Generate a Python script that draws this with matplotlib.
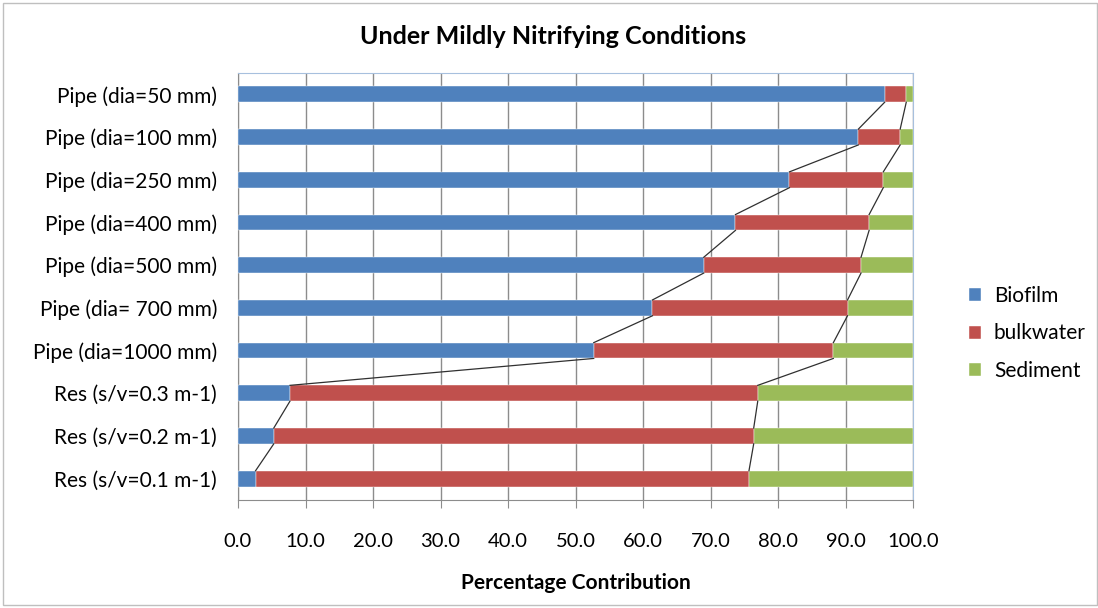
import numpy as np
import matplotlib.pyplot as plt
from matplotlib.patches import Rectangle

# ========================
# DATA
# ========================
categories = ["Pipe (dia=50 mm)", "Pipe (dia=100 mm)", "Pipe (dia=250 mm)",
              "Pipe (dia=400 mm)", "Pipe (dia=500 mm)", "Pipe (dia= 700 mm)",
              "Pipe (dia=1000 mm)", "Res (s/v=0.3 m-1)", "Res (s/v=0.2 m-1)",
              "Res (s/v=0.1 m-1)"]
biofilm = [95.8, 91.9, 81.7, 73.7, 69.0, 61.4, 52.7, 7.7, 5.3, 2.6]
bulkwater = [3.2, 6.2, 13.9, 19.8, 23.3, 28.9, 35.5, 69.3, 71.1, 73.1]
sediment = [100 - b - w for b, w in zip(biofilm, bulkwater)]

colors = {"Biofilm": "#4F81BD", "bulkwater": "#C0504D", "Sediment": "#9BBB59"}

plt.rcParams['font.family'] = ['Lato', 'DejaVu Sans']

# ========================
# PLOT
# ========================
fig = plt.figure(figsize=(10.98, 6.08), dpi=100)
ax = fig.add_axes([238 / 1098, 1 - 500 / 608, 675 / 1098, 427 / 608])

y = np.arange(len(categories))
h = 0.37
left = np.zeros(len(categories))
for name, vals in [("Biofilm", biofilm), ("bulkwater", bulkwater), ("Sediment", sediment)]:
    ax.barh(y, vals, left=left, height=h, color=colors[name], label=name,
            edgecolor="white", linewidth=0.3, zorder=3)
    left = left + np.array(vals)

# series lines between bar edges
cum1 = np.array(biofilm)
cum2 = cum1 + np.array(bulkwater)
for cum in (cum1, cum2):
    for i in range(len(categories) - 1):
        ax.plot([cum[i], cum[i + 1]], [y[i] + h / 2, y[i + 1] - h / 2],
                color="#303030", linewidth=0.9, zorder=4)

ax.set_xlim(0, 100)
ax.set_ylim(len(categories) - 0.5, -0.5)
ax.set_xticks(np.arange(0, 101, 10))
ax.set_xticklabels([f"{v:.1f}" for v in np.arange(0, 101, 10)], fontsize=14.5)
ax.set_yticks(y)
ax.set_yticklabels(categories, fontsize=15)
ax.tick_params(axis="y", length=0, pad=15)
ax.tick_params(axis="x", length=6, color="#8c8c8c", pad=18)
ax.grid(axis="x", color="#8c8c8c", linewidth=1, zorder=0)
ax.set_axisbelow(True)
for s in ("left", "bottom"):
    ax.spines[s].set_color("#8c8c8c")
for s in ("top", "right"):
    ax.spines[s].set_color("#a7c0de")

ax.set_xlabel("Percentage Contribution", fontsize=15, fontweight="bold", labelpad=16)
fig.text(553 / 1098, 1 - 37 / 608, "Under Mildly Nitrifying Conditions",
         ha="center", va="center", fontsize=18, fontweight="bold")

ax.legend(loc="center left", bbox_to_anchor=(1.055, 0.39), frameon=False,
          fontsize=15, handlelength=0.6, handleheight=0.6, labelspacing=0.85,
          handletextpad=0.6)

fig.patches.append(Rectangle((3 / 1098, 3 / 608), 1094 / 1098, 602 / 608,
                             transform=fig.transFigure, fill=False,
                             edgecolor="#bfbfbf", linewidth=1))

fig.savefig("out.png", dpi=100)
